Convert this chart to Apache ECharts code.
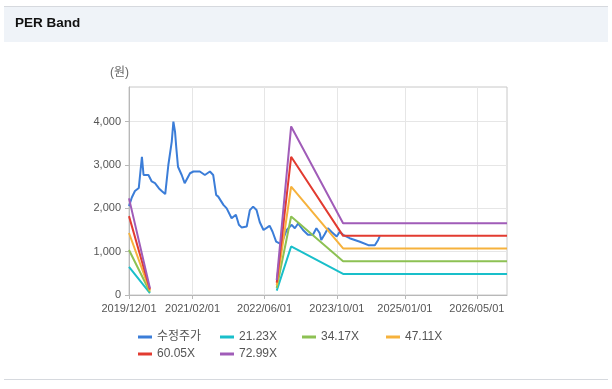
<!DOCTYPE html>
<html><head><meta charset="utf-8">
<script src="https://cdn.jsdelivr.net/npm/echarts@6/dist/echarts.min.js"></script>
<style>html,body{margin:0;padding:0;background:#fff}#c{width:612px;height:389px}</style>
</head><body><div id="c"></div>
<script>
const xTickLabels = ['2019/12/01','2021/02/01','2022/06/01','2023/10/01','2025/01/01','2026/05/01'];
const xMin = '2019-12-01', xMax = '2026-11-20';
const yTicks = [0, 1000, 2000, 3000, 4000];

const priceDates = ['2019-12-01','2019-12-20','2020-01-10','2020-02-05','2020-02-26','2020-03-08','2020-03-20','2020-04-10','2020-05-02','2020-05-24','2020-06-20','2020-07-12','2020-08-01','2020-08-22','2020-09-14','2020-09-25','2020-10-06','2020-10-14','2020-10-26','2020-11-20','2020-12-10','2021-01-15','2021-02-07','2021-03-22','2021-04-25','2021-05-29','2021-06-20','2021-07-10','2021-07-24','2021-08-28','2021-09-19','2021-10-22','2021-11-20','2021-12-10','2021-12-28','2022-02-01','2022-02-22','2022-03-16','2022-04-08','2022-04-30','2022-05-25','2022-06-20','2022-07-05','2022-07-25','2022-08-18','2022-09-10','2022-09-25','2022-10-28','2022-12-01','2022-12-22','2023-01-13','2023-02-15','2023-03-20','2023-04-23','2023-05-16','2023-06-07','2023-06-18','2023-07-11','2023-08-02','2023-08-25','2023-09-30','2023-10-20','2023-11-12','2023-12-26','2024-03-04','2024-04-30','2024-06-13','2024-07-05','2024-07-16'];
const priceValues = [2050,2250,2400,2470,3190,2770,2730,2770,2620,2580,2460,2390,2330,3000,3540,4000,3770,3420,2960,2770,2580,2810,2850,2850,2770,2850,2770,2310,2270,2080,2000,1770,1850,1620,1560,1580,1960,2040,1960,1680,1500,1560,1600,1460,1230,1190,1200,1500,1620,1540,1650,1500,1390,1390,1540,1430,1270,1400,1540,1460,1350,1460,1390,1310,1230,1150,1150,1270,1360];

const bandDates = ['2019-12-01','2020-04-20','2021-06-01','2022-08-22','2022-11-27','2023-11-12','2026-11-20'];
const band2123 = [650, 45, null, 100, 1120, 485, 485];
const band3417 = [1040, 70, null, 160, 1810, 780, 780];
const band4711 = [1430, 100, null, 225, 2500, 1075, 1075];
const band6005 = [1820, 125, null, 285, 3190, 1365, 1365];
const band7299 = [2230, 155, null, 345, 3890, 1655, 1655];

const names = ['수정주가','21.23X','34.17X','47.11X','60.05X','72.99X'];
const colors = ['#3b7dd8','#19bfca','#8dc153','#f6b23c','#e23b30','#a05cb8'];

const FONT = '"Liberation Sans", Arial, "Noto Sans CJK KR", sans-serif';
const pd = s => +echarts.number.parseDate(s);

function bandSeries(name, vals, color){
  return {
    name, type:'line', color, showSymbol:false, symbol:'none',
    lineStyle:{width:2, color}, connectNulls:false,
    data: bandDates.map((d,i)=> [pd(d), vals[i]===null ? '-' : vals[i]])
  };
}

const chart = echarts.init(document.getElementById('c'), null, {renderer:'canvas'});
const legendPos = [[138,331],[220,331],[302,331],[386,331],[138,348],[220,348]];
const xTickVals = xTickLabels.map(s=>pd(s.replace(/\//g,'-')));
chart.setOption({
  animation:false,
  graphic:[
    {type:'rect', shape:{x:4,y:6,width:604,height:36}, style:{fill:'#eff3f8'}, z:-1},
    {type:'line', shape:{x1:4,y1:6.5,x2:608,y2:6.5}, style:{stroke:'#d6d9de',lineWidth:1}},
    {type:'line', shape:{x1:4,y1:379.5,x2:608,y2:379.5}, style:{stroke:'#d6d9de',lineWidth:1}},
    {type:'text', left:15, top:17, style:{text:'PER Band', fill:'#111', font:'bold 13.5px '+FONT}}
  ],
  grid:{left:129, right:105, top:87, bottom:94, show:true, borderColor:'#c8c8c8', borderWidth:1},
  legend: names.map((n,i)=>({
    data:[n], left:legendPos[i][0], top:legendPos[i][1], itemWidth:14, itemHeight:3, itemGap:4,
    icon:'rect', padding:0,
    textStyle:{color:'#555', fontSize:12, fontFamily:FONT}
  })),
  xAxis:{
    type:'value', min:pd(xMin), max:pd(xMax),
    axisLine:{lineStyle:{color:'#b8b8b8'}},
    axisTick:{show:true, length:4, lineStyle:{color:'#b8b8b8'}, customValues:xTickVals},
    axisLabel:{color:'#555', fontSize:11, fontFamily:FONT, margin:8, hideOverlap:false,
      customValues:xTickVals,
      formatter:v=>xTickLabels[xTickVals.indexOf(v)] || ''},
    splitLine:{show:true, lineStyle:{color:'#e6e6e6'}}
  },
  yAxis:{
    type:'value', min:0, max:4800,
    name:'(원)', nameLocation:'end', nameGap:8,
    nameTextStyle:{color:'#666', fontSize:12, fontFamily:FONT, align:'right'},
    axisLine:{show:true, lineStyle:{color:'#b8b8b8'}},
    axisTick:{show:true, length:4, lineStyle:{color:'#b8b8b8'}, customValues:yTicks},
    axisLabel:{color:'#555', fontSize:11, fontFamily:FONT, margin:8, customValues:yTicks,
      formatter:v=>v.toLocaleString('en-US')},
    splitLine:{show:true, lineStyle:{color:'#e6e6e6'}}
  },
  series:[
    {name:names[0], type:'line', color:colors[0], showSymbol:false, symbol:'none', lineStyle:{width:2,color:colors[0]},
     data: priceDates.map((d,i)=>[pd(d), priceValues[i]]), z:3},
    bandSeries(names[1], band2123, colors[1]),
    bandSeries(names[2], band3417, colors[2]),
    bandSeries(names[3], band4711, colors[3]),
    bandSeries(names[4], band6005, colors[4]),
    bandSeries(names[5], band7299, colors[5])
  ]
});
</script></body></html>
